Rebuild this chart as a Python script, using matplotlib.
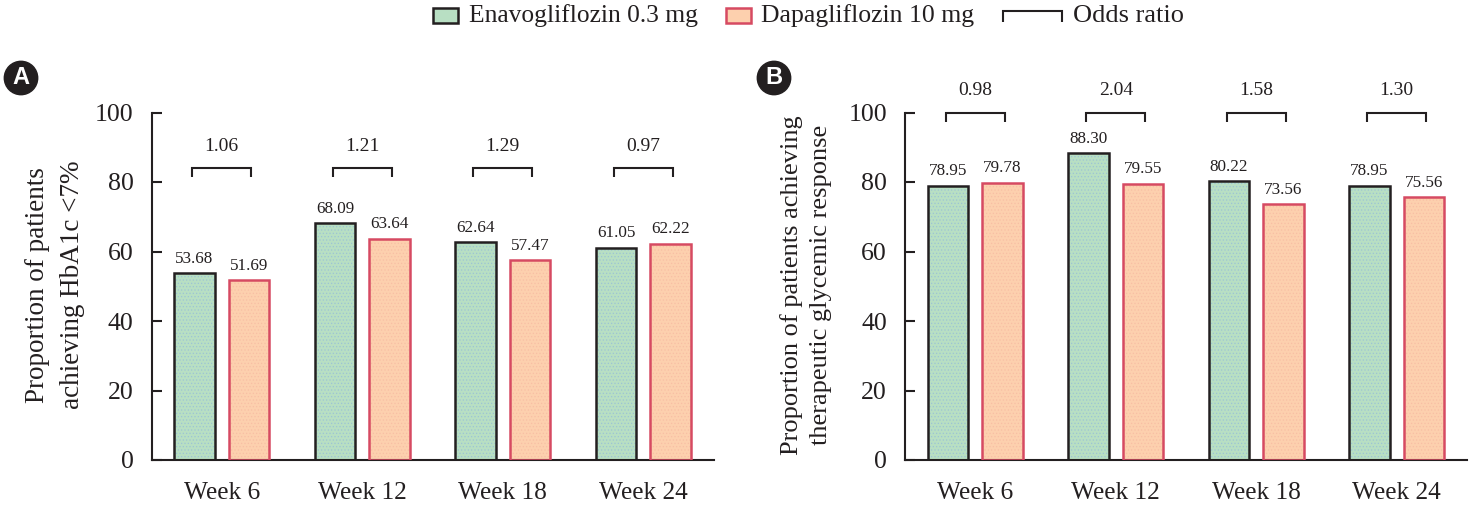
import matplotlib
matplotlib.use("Agg")
import matplotlib.pyplot as plt
import numpy as np
from matplotlib.lines import Line2D
from matplotlib.patches import Rectangle

plt.rcParams['font.family'] = ['Liberation Serif', 'DejaVu Serif']
plt.rcParams['hatch.linewidth'] = 0.5

weeks = ["Week 6", "Week 12", "Week 18", "Week 24"]
enavo_a = [53.68, 68.09, 62.64, 61.05]
dapa_a = [51.69, 63.64, 57.47, 62.22]
odds_a = ["1.06", "1.21", "1.29", "0.97"]
enavo_b = [78.95, 88.30, 80.22, 78.95]
dapa_b = [79.78, 79.55, 73.56, 75.56]
odds_b = ["0.98", "2.04", "1.58", "1.30"]
yticks = [0, 20, 40, 60, 80, 100]

INK = "#231f20"
GREEN = "#b8dfc3"
PEACH = "#fdd0ae"
RED = "#d64a62"
W, H = 1469, 505


def draw_panel(rect, enavo, dapa, odds, bracket_y, ylabel, letter, letter_x, ylabel_x, ylabel_size, spacing):
    ax = fig.add_axes(rect)
    ax.patch.set_alpha(0)
    x = np.arange(len(weeks))
    off, bw = 0.194, 0.29
    ax.bar(x - off, enavo, bw, color=GREEN, linewidth=0, zorder=1)
    ax.bar(x + off, dapa, bw, color=PEACH, linewidth=0, zorder=1)
    # stipple on the bars, under the outlines
    ax.bar(x - off, enavo, bw, fill=False, hatch='.....', edgecolor='#9cc4d4', linewidth=0, zorder=2)
    ax.bar(x + off, dapa, bw, fill=False, hatch='.....', edgecolor='#f8bfa4', linewidth=0, zorder=2)
    ax.bar(x - off, enavo, bw, fill=False, edgecolor=INK, linewidth=1.8, zorder=3)
    ax.bar(x + off, dapa, bw, fill=False, edgecolor=RED, linewidth=1.8, zorder=3)
    for i in x:
        ax.text(i - off, enavo[i] + 1.9, f"{enavo[i]:.2f}", ha='center', va='bottom', fontsize=12.3, color=INK, clip_on=False)
        ax.text(i + off, dapa[i] + 1.9, f"{dapa[i]:.2f}", ha='center', va='bottom', fontsize=12.3, color=INK, clip_on=False)
        ax.plot([i - 0.21, i - 0.21, i + 0.21, i + 0.21],
                [bracket_y - 2.7, bracket_y, bracket_y, bracket_y - 2.7],
                color=INK, lw=1.5, clip_on=False, solid_joinstyle='miter', solid_capstyle='butt')
        ax.text(i, bracket_y + 3.9, odds[i], ha='center', va='bottom', fontsize=14, color=INK, clip_on=False)
    ax.set_xlim(-0.5, 3.5)
    ax.set_ylim(0, 100)
    ax.set_xticks(x, weeks)
    ax.set_yticks(yticks)
    ax.tick_params(axis='x', length=0, pad=16, labelsize=18.3, labelcolor=INK)
    ax.tick_params(axis='y', direction='in', length=7, width=1.5, pad=13, labelsize=18.6, color=INK, labelcolor=INK)
    for s in ['top', 'right']:
        ax.spines[s].set_visible(False)
    for s in ['left', 'bottom']:
        ax.spines[s].set_linewidth(1.5)
        ax.spines[s].set_color(INK)
    fig.text(ylabel_x / W, 1 - 285 / H, ylabel, rotation=90, ha='center', va='center',
             fontsize=ylabel_size, color=INK, linespacing=spacing, multialignment='center')
    fig.text(letter_x / W, 1 - 78 / H, letter, ha='center', va='center', fontsize=17, fontweight='bold',
             family='Liberation Sans', color='white',
             bbox=dict(boxstyle='circle,pad=0.22', fc=INK, ec=INK))
    return ax


fig = plt.figure(figsize=(W / 100, H / 100), dpi=100)

top = 112.5
bottom = 460.0
draw_panel([151.5 / W, 1 - bottom / H, 562 / W, (bottom - top) / H], enavo_a, dapa_a, odds_a, 84,
           "Proportion of patients\nachieving HbA1c <7%", "A", 21, 55, 19.5, 1.5)
draw_panel([905 / W, 1 - bottom / H, 562 / W, (bottom - top) / H], enavo_b, dapa_b, odds_b, 100,
           "Proportion of patients achieving\ntherapeutic glycemic response", "B", 774, 806, 19, 1.4)


# legend, placed by hand in pixels
def px(x, y):
    return x / W, 1 - y / H


for left, fc, ec in [(433, GREEN, INK), (726, PEACH, RED)]:
    x0, y0 = px(left, 23)
    fig.add_artist(Rectangle((x0, y0), 25 / W, 15 / H, transform=fig.transFigure, fc=fc, ec=ec, lw=1.8))
xs = [1003, 1003, 1062, 1062]
ys = [22, 11, 11, 22]
fig.add_artist(Line2D([a / W for a in xs], [1 - b / H for b in ys], transform=fig.transFigure, color=INK, lw=1.5,
                      solid_joinstyle='miter', solid_capstyle='butt'))
for left, label, size in [(469, "Enavogliflozin 0.3 mg", 18.4), (761, "Dapagliflozin 10 mg", 18.5), (1073, "Odds ratio", 19)]:
    x0, y0 = px(left, 16)
    fig.text(x0, y0, label, ha='left', va='center', fontsize=size, color=INK)

fig.savefig("out.png", dpi=100)
